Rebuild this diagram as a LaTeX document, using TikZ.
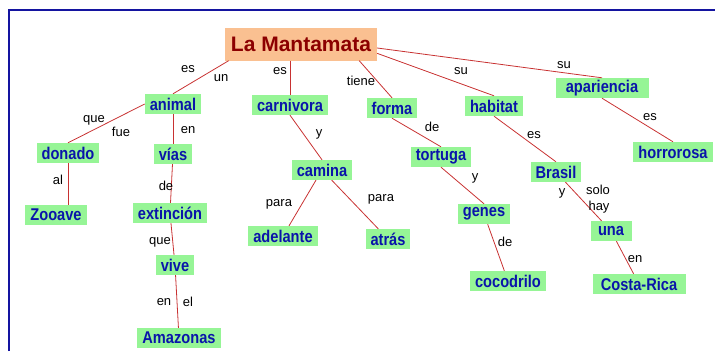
\documentclass[tikz,border=0pt]{standalone}
\usepackage{fontspec}
\setmainfont{Liberation Sans}
\newfontfamily\conceptfont[FakeStretch=0.86]{Liberation Sans}
\definecolor{conceptgreen}{RGB}{150,245,150}
\definecolor{titlepeach}{RGB}{250,192,145}
\definecolor{titlered}{RGB}{140,0,0}
\definecolor{conceptblue}{RGB}{10,20,170}
\definecolor{linkred}{RGB}{200,50,50}
\definecolor{framblue}{RGB}{20,20,160}
\tikzset{
  concept/.style={fill=conceptgreen,text=conceptblue,font=\conceptfont\fontsize{17}{18}\selectfont\bfseries,
    inner xsep=5pt,inner ysep=1pt,minimum height=20pt},
  linkword/.style={font=\fontsize{13}{14}\selectfont,inner sep=0pt}
}
\begin{document}
\begin{tikzpicture}[x=1pt,y=-1pt]
	\useasboundingbox (0,0) rectangle (715,351);
	\draw[framblue,line width=2pt] (9,351) -- (9,10) -- (715,10);
	\node[fill=titlepeach,text=titlered,font=\fontsize{21}{24}\selectfont\bfseries,
	  minimum width=152pt,minimum height=33pt] (mant) at (301,44) {La Mantamata};
	\begin{scope}[every node/.style={concept}]
	  \node (animal) at (173,104) {animal};
	  \node (carn) at (290,105) {carnivora};
	  \node (forma) at (392,108) {forma};
	  \node (habitat) at (494,106) {habitat};
	  \node[minimum width=93pt] (apar) at (602,88) {apariencia};
	  \node (horr) at (673,152) {horrorosa};
	  \node (donado) at (68,153) {donado};
	  \node (vias) at (173,154) {vías};
	  \node (camina) at (322,170) {camina};
	  \node (tortuga) at (441,157) {tortuga};
	  \node (brasil) at (556,172) {Brasil};
	  \node (zooave) at (56,215) {Zooave};
	  \node (extin) at (170,213) {extinción};
	  \node (adel) at (283,236) {adelante};
	  \node (atras) at (388,239) {atrás};
	  \node (genes) at (484,214) {genes};
	  \node[minimum width=41pt] (una) at (611,231) {una};
	  \node (vive) at (175,265) {vive};
	  \node (coco) at (508,281) {cocodrilo};
	  \node[minimum width=93pt] (costa) at (639,284) {Costa-Rica};
	  \node (amaz) at (179,338) {Amazonas};
	\end{scope}
	\begin{scope}[every edge/.style={draw=linkred,line width=0.8pt}]
	  \path (mant.193) edge (animal.north);
	  \path (carn.north |- mant.south) edge (carn.north);
	  \path (mant.-16) edge (forma.north);
	  \path (mant.-7) edge (habitat.north);
	  \path (mant.-3) edge (apar.north);
	  \path (apar.south) edge (horr.north);
	  \path (habitat.south) edge (brasil.north);
	  \path (brasil) edge (una);
	  \path (una) edge (costa);
	  \path (forma.south) edge (tortuga.north);
	  \path (tortuga.south) edge (genes.north);
	  \path (genes) edge (coco);
	  \path (carn.south) edge (camina.north);
	  \path (camina) edge (adel);
	  \path (camina) edge (atras);
	  \path (animal.west) edge (donado.north);
	  \path (animal) edge (vias);
	  \path (donado) edge (zooave.north -| donado.south);
	  \path (vias) edge (extin);
	  \path (extin) edge (vive);
	  \path (vive) edge (amaz);
	\end{scope}
	\begin{scope}[every node/.style={linkword}]
	  \node (esA) at (188,69) {es};
	  \node (unA) at (221,78) {un};
	  \node (esB) at (280,71) {es};
	  \node (tiene) at (361,81) {tiene};
	  \node (suA) at (461,71) {su};
	  \node (suB) at (564,65) {su};
	  \node (esC) at (650,117) {es};
	  \node (esD) at (534,135) {es};
	  \node (deA) at (432,127) {de};
	  \node (yA) at (475,178) {y};
	  \node (deB) at (505,242) {de};
	  \node (yB) at (562,193) {y};
	  \node (solo) at (598,190) {solo};
	  \node (hay) at (599,207) {hay};
	  \node (enA) at (635,259) {en};
	  \node (yC) at (319,134) {y};
	  \node (paraA) at (279,204) {para};
	  \node (paraB) at (381,199) {para};
	  \node (queA) at (94,120) {que};
	  \node (fue) at (121,132) {fue};
	  \node (enB) at (188,130) {en};
	  \node (al) at (58,180) {al};
	  \node (deC) at (166,186) {de};
	  \node (queB) at (160,242) {que};
	  \node (enC) at (164,302) {en};
	  \node (el) at (188,302) {el};
	\end{scope}
\end{tikzpicture}
\end{document}
